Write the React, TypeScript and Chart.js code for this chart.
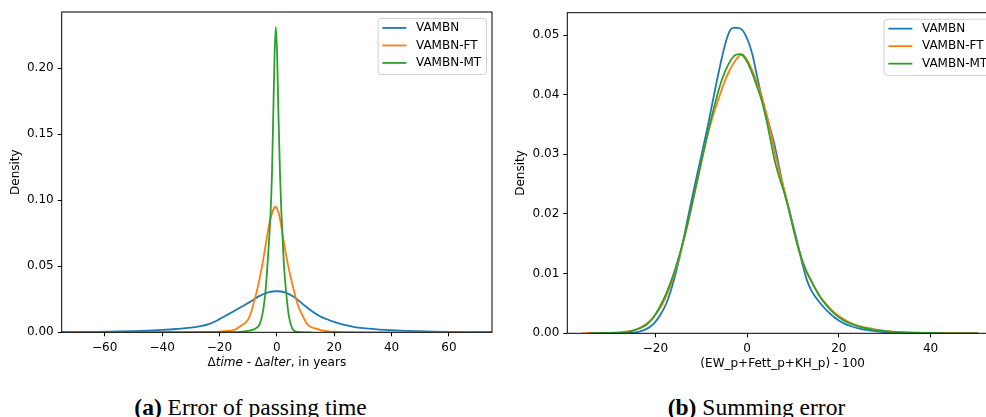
import React, { useEffect, useRef } from "react";
import { Chart, registerables } from "chart.js";
Chart.register(...registerables);

const seriesNames = ["VAMBN", "VAMBN-FT", "VAMBN-MT"];
const seriesColors = ["#1f77b4", "#ff7f0e", "#2ca02c"];

// ---------- Panel (a): Error of passing time ----------
const passBlueX = [-75, -70, -65, -60, -55, -50, -45, -40, -35, -30, -27, -24, -21, -18, -15, -12, -9, -6, -3, 0, 3, 6, 9, 12, 15, 18, 21, 24, 27, 30, 35, 40, 45, 50, 55, 60, 65, 70, 75];
const passBlueY = [0.0001, 0.00015, 0.0002, 0.0004, 0.0006, 0.0009, 0.0013, 0.0018, 0.0025, 0.0035, 0.0045, 0.006, 0.0088, 0.0124, 0.016, 0.0197, 0.0236, 0.0276, 0.0303, 0.0311, 0.0301, 0.0268, 0.0215, 0.0163, 0.0122, 0.0094, 0.0072, 0.0054, 0.004, 0.0031, 0.0022, 0.0016, 0.0011, 0.0008, 0.0005, 0.0003, 0.0002, 0.0001, 0.0001];

const passOrangeX = [-72, -50, -30, -25, -20, -17, -15, -14, -13, -12, -11, -10, -9, -8, -7, -6, -5, -4, -3, -2, -1, -0.5, 0, 1, 2, 3, 4, 5, 6, 7, 8, 9, 10, 11, 12, 14, 16, 18, 20, 25, 30, 50, 68];
const passOrangeY = [0, 0, 0.0001, 0.0002, 0.0005, 0.001, 0.0016, 0.0028, 0.0042, 0.0058, 0.0072, 0.0098, 0.015, 0.023, 0.031, 0.041, 0.052, 0.065, 0.078, 0.088, 0.094, 0.0952, 0.094, 0.087, 0.074, 0.061, 0.05, 0.04, 0.031, 0.023, 0.017, 0.0125, 0.0082, 0.0052, 0.0038, 0.0026, 0.0012, 0.0007, 0.0004, 0.0001, 0, 0, 0];

const passGreenX = [-75, -40, -20, -14, -12, -10, -8, -7, -6, -5, -4.5, -4, -3, -2.2, -1.7, -1.2, -0.8, -0.35, 0.1, 0.5, 1.1, 1.6, 2.2, 2.5, 3, 4, 4.5, 5, 5.5, 6, 7, 8, 10, 12];
const passGreenY = [0, 0, 0, 0.0001, 0.0005, 0.001, 0.0022, 0.0035, 0.006, 0.014, 0.021, 0.03, 0.06, 0.09, 0.12, 0.17, 0.21, 0.2315, 0.21, 0.17, 0.12, 0.09, 0.062, 0.05, 0.036, 0.015, 0.009, 0.005, 0.0025, 0.0012, 0.0004, 0.0001, 0, 0];

const passXTicks = [-60, -40, -20, 0, 20, 40, 60];
const passXTickLabels = ["\u221260", "\u221240", "\u221220", "0", "20", "40", "60"];
const passYTicks = [0, 0.05, 0.1, 0.15, 0.2];
const passYTickLabels = ["0.00", "0.05", "0.10", "0.15", "0.20"];
const passXRange = [-75, 75];
const passYRange = [0, 0.2427];
const passXTitle: [string, boolean][] = [["\u0394", false], ["time", true], [" - \u0394", false], ["alter", true], [", in years", false]];
const passCaption = ["(a)", " Error of passing time"];

// ---------- Panel (b): Summing error ----------
const sumBlueX = [-34.8, -30, -27, -25, -23.5, -22, -20.5, -19, -17.5, -16, -14.5, -13, -11.5, -10, -8.5, -7, -5.5, -4.5, -3.7, -3, -2, -1, -0.3, 0.5, 1.2, 2, 3, 4, 5, 6, 7, 8, 9, 10, 11, 12, 13, 14, 15, 16, 17.5, 19, 21, 23, 25, 27.5, 30, 33, 37, 42, 50.4];
const sumBlueY = [0, 0.00002, 0.00005, 0.0001, 0.0003, 0.0007, 0.0015, 0.003, 0.0052, 0.0088, 0.0135, 0.019, 0.0245, 0.0297, 0.035, 0.0408, 0.0462, 0.0492, 0.0508, 0.0512, 0.0512, 0.0508, 0.0499, 0.0484, 0.0466, 0.0437, 0.0402, 0.0372, 0.0345, 0.0315, 0.0278, 0.0242, 0.0212, 0.0182, 0.015, 0.0118, 0.009, 0.0072, 0.006, 0.005, 0.0037, 0.0027, 0.0017, 0.0011, 0.0007, 0.0004, 0.0002, 0.0001, 0.00005, 0, 0];

const sumOrangeX = [-36, -32, -29, -26, -24, -22.5, -21, -19.5, -18, -16.5, -15, -13.5, -12, -10.5, -9, -7.5, -6, -5, -4, -3, -2, -1.15, -0.3, 1, 2, 3, 4, 5, 6, 7, 8, 9, 10, 11, 12, 13, 14, 15, 16, 17.5, 19, 21, 23, 25, 27.5, 30, 33, 37, 42, 46, 50.4];
const sumOrangeY = [0, 0.00003, 0.0001, 0.0003, 0.0007, 0.0013, 0.0022, 0.0036, 0.0056, 0.0085, 0.0122, 0.0165, 0.0215, 0.0268, 0.032, 0.0363, 0.0398, 0.042, 0.0438, 0.0452, 0.0463, 0.0468, 0.0462, 0.0443, 0.0423, 0.0402, 0.0374, 0.0342, 0.0305, 0.0272, 0.0243, 0.0212, 0.0178, 0.0147, 0.0122, 0.0102, 0.0087, 0.0073, 0.0061, 0.0047, 0.0035, 0.0024, 0.0016, 0.0011, 0.0007, 0.0004, 0.0002, 0.0001, 0.00005, 0.00002, 0];

const sumGreenX = [-34, -30, -27, -25, -23.5, -22, -20.5, -19, -17.5, -16, -14.5, -13, -11.5, -10, -8.5, -7, -5.5, -4, -2.8, -1.9, -1, 0, 1, 2, 3, 4, 5, 6, 7, 8, 9, 10, 11, 12, 13, 14, 15, 16, 17.5, 19, 21, 23, 25, 27.5, 30, 33, 36, 40, 45, 50.4];
const sumGreenY = [0, 0.00005, 0.0001, 0.0004, 0.0008, 0.0014, 0.0026, 0.0045, 0.0069, 0.01, 0.0138, 0.0183, 0.0235, 0.0287, 0.0338, 0.0385, 0.0425, 0.0452, 0.0465, 0.0468, 0.0466, 0.0455, 0.0438, 0.0417, 0.0395, 0.0365, 0.0328, 0.029, 0.0262, 0.0238, 0.021, 0.0178, 0.0148, 0.0123, 0.0103, 0.0088, 0.0073, 0.006, 0.0045, 0.0033, 0.0022, 0.0015, 0.001, 0.0006, 0.0004, 0.0002, 0.0001, 0.00005, 0, 0];

const sumXTicks = [-20, 0, 20, 40];
const sumXTickLabels = ["\u221220", "0", "20", "40"];
const sumYTicks = [0, 0.01, 0.02, 0.03, 0.04, 0.05];
const sumYTickLabels = ["0.00", "0.01", "0.02", "0.03", "0.04", "0.05"];
const sumXRange = [-39.2, 54.7];
const sumYRange = [0, 0.05374];
const sumXTitle: [string, boolean][] = [["(EW_p+Fett_p+KH_p) - 100", false]];
const sumCaption = ["(b)", " Summing error"];

const yTitle = "Density";
const FONT = '"DejaVu Sans", sans-serif';
const FS = 12;

type PanelProps = {
  xs: number[][];
  ys: number[][];
  xTicks: number[];
  xTickLabels: string[];
  yTicks: number[];
  yTickLabels: string[];
  xRange: number[];
  yRange: number[];
  xTitle: [string, boolean][];
  width: number;
  height: number;
  padTop: number;
  padRight: number;
  yAxisWidth: number;
  xAxisHeight: number;
};

function makeDecor(xTitle: [string, boolean][]) {
  return {
    id: "decor",
    afterDatasetsDraw(chart: any) {
      const { ctx, chartArea } = chart;
      const { left, right, top, bottom } = chartArea;
      ctx.save();
      ctx.strokeStyle = "#000";
      ctx.lineWidth = 1;
      ctx.strokeRect(left, top, right - left, bottom - top);
      ctx.restore();
    },
    afterDraw(chart: any) {
      const { ctx, chartArea } = chart;
      const { left, right, top, bottom } = chartArea;
      ctx.save();
      ctx.fillStyle = "#000";
      // y title
      ctx.font = `${FS}px ${FONT}`;
      ctx.textAlign = "center";
      ctx.textBaseline = "middle";
      ctx.save();
      ctx.translate(left - 46, (top + bottom) / 2);
      ctx.rotate(-Math.PI / 2);
      ctx.fillText(yTitle, 0, 0);
      ctx.restore();
      // x title (mixed styles)
      const fonts = xTitle.map(([, it]) => `${it ? "italic " : ""}${FS}px ${FONT}`);
      let total = 0;
      const widths = xTitle.map(([t], i) => {
        ctx.font = fonts[i];
        const w = ctx.measureText(t).width;
        total += w;
        return w;
      });
      let x = (left + right) / 2 - total / 2;
      ctx.textAlign = "left";
      xTitle.forEach(([t], i) => {
        ctx.font = fonts[i];
        ctx.fillText(t, x, bottom + 30.4);
        x += widths[i];
      });
      // legend
      ctx.font = `${FS}px ${FONT}`;
      const ds = chart.data.datasets;
      const maxW = Math.max(...ds.map((d: any) => ctx.measureText(d.label).width));
      const bp = 0.4 * FS, hl = 2 * FS, htp = 0.8 * FS, ls = 0.5 * FS, rowH = 11.5;
      const boxW = 2 * bp + hl + htp + maxW;
      const boxH = 2 * bp + ds.length * rowH + (ds.length - 1) * ls;
      const bx = right - 0.5 * FS - boxW;
      const by = top + 0.5 * FS;
      ctx.beginPath();
      (ctx as any).roundRect(bx + 0.5, by + 0.5, boxW, boxH, 3);
      ctx.fillStyle = "rgba(255,255,255,0.8)";
      ctx.fill();
      ctx.strokeStyle = "#d0d0d0";
      ctx.lineWidth = 1;
      ctx.stroke();
      ds.forEach((d: any, i: number) => {
        const cy = by + bp + rowH / 2 - 0.6 + i * (rowH + ls);
        ctx.strokeStyle = d.borderColor;
        ctx.lineWidth = 1.8;
        ctx.beginPath();
        ctx.moveTo(bx + bp, cy);
        ctx.lineTo(bx + bp + hl, cy);
        ctx.stroke();
        ctx.fillStyle = "#000";
        ctx.textAlign = "left";
        ctx.textBaseline = "middle";
        ctx.fillText(d.label, bx + bp + hl + htp, cy);
      });
      ctx.restore();
    },
  };
}

function Panel(p: PanelProps) {
  const ref = useRef<HTMLCanvasElement>(null);
  useEffect(() => {
    if (!ref.current) return;
    const datasets = p.xs.map((xs, s) => ({
      label: seriesNames[s],
      data: xs.map((x, i) => ({ x, y: p.ys[s][i] })),
      borderColor: seriesColors[s],
      backgroundColor: seriesColors[s],
      borderWidth: 1.8,
      pointRadius: 0,
      fill: false,
      cubicInterpolationMode: "monotone" as const,
      order: 3 - s,
    }));
    const tickFont = { family: FONT, size: FS };
    const chart = new Chart(ref.current, {
      type: "line",
      data: { datasets },
      options: {
        animation: false,
        responsive: false,
        devicePixelRatio: 1,
        events: [],
        layout: { padding: { left: 0, top: p.padTop, right: p.padRight, bottom: 0 } },
        plugins: { legend: { display: false }, tooltip: { enabled: false } },
        scales: {
          x: {
            type: "linear",
            min: p.xRange[0],
            max: p.xRange[1],
            afterBuildTicks: (scale: any) => {
              scale.ticks = p.xTicks.map((v) => ({ value: v }));
            },
            afterFit: (scale: any) => {
              scale.height = p.xAxisHeight;
            },
            ticks: {
              font: tickFont,
              color: "#000",
              padding: 4,
              maxRotation: 0,
              autoSkip: false,
              callback: (_v: any, i: number) => p.xTickLabels[i],
            },
            grid: { drawOnChartArea: false, drawTicks: true, tickLength: 4, color: "#000", lineWidth: 1 },
            border: { display: false },
          },
          y: {
            type: "linear",
            min: p.yRange[0],
            max: p.yRange[1],
            afterBuildTicks: (scale: any) => {
              scale.ticks = p.yTicks.map((v) => ({ value: v }));
            },
            afterFit: (scale: any) => {
              scale.width = p.yAxisWidth;
            },
            ticks: {
              font: tickFont,
              color: "#000",
              padding: 4,
              autoSkip: false,
              callback: (_v: any, i: number) => p.yTickLabels[i],
            },
            grid: { drawOnChartArea: false, drawTicks: true, tickLength: 4, color: "#000", lineWidth: 1 },
            border: { display: false },
          },
        },
      },
      plugins: [makeDecor(p.xTitle)],
    } as any);
    return () => chart.destroy();
  }, []);
  return <canvas ref={ref} width={p.width} height={p.height} style={{ display: "block" }} />;
}

function Caption({ parts, center }: { parts: string[]; center: number }) {
  return (
    <div
      style={{
        position: "absolute",
        left: center - 200,
        width: 400,
        top: 396,
        textAlign: "center",
        fontFamily: '"Liberation Serif", "Times New Roman", serif',
        fontSize: 23.5,
        lineHeight: "23px",
        color: "#000",
        whiteSpace: "nowrap",
      }}
    >
      <b>{parts[0]}</b>
      {parts[1]}
    </div>
  );
}

export default function App() {
  return (
    <div
      style={{
        position: "absolute",
        left: 0,
        top: 0,
        width: 986,
        height: 417,
        overflow: "hidden",
        background: "#fff",
      }}
    >
      <div style={{ position: "absolute", left: 0, top: 0 }}>
        <Panel
          xs={[passBlueX, passOrangeX, passGreenX]}
          ys={[passBlueY, passOrangeY, passGreenY]}
          xTicks={passXTicks}
          xTickLabels={passXTickLabels}
          yTicks={passYTicks}
          yTickLabels={passYTickLabels}
          xRange={passXRange}
          yRange={passYRange}
          xTitle={passXTitle}
          width={500}
          height={385}
          padTop={12}
          padRight={8}
          yAxisWidth={61.7}
          xAxisHeight={52.7}
        />
      </div>
      <div style={{ position: "absolute", left: 500, top: 0 }}>
        <Panel
          xs={[sumBlueX, sumOrangeX, sumGreenX]}
          ys={[sumBlueY, sumOrangeY, sumGreenY]}
          xTicks={sumXTicks}
          xTickLabels={sumXTickLabels}
          yTicks={sumYTicks}
          yTickLabels={sumYTickLabels}
          xRange={sumXRange}
          yRange={sumYRange}
          xTitle={sumXTitle}
          width={520}
          height={385}
          padTop={12.7}
          padRight={22}
          yAxisWidth={67.3}
          xAxisHeight={51.7}
        />
      </div>
      <Caption parts={passCaption} center={250.5} />
      <Caption parts={sumCaption} center={756.5} />
    </div>
  );
}
